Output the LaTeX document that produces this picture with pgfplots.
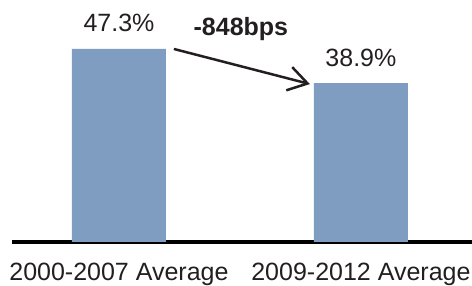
\documentclass[border=0pt]{standalone}
\usepackage{pgfplots}
\pgfplotsset{compat=1.18}
\usepackage{fontspec}
\setmainfont{Liberation Sans}
\usetikzlibrary{arrows.meta}
\definecolor{barblue}{RGB}{127,157,192}
\definecolor{txt}{RGB}{35,31,32}
\begin{document}
\begin{tikzpicture}
\useasboundingbox (0,0) rectangle (472pt,286pt);
\begin{axis}[
  at={(12pt,44pt)}, anchor=south west,
  scale only axis, width=460pt, height=242pt,
  xmin=-0.442, xmax=1.459, ymin=0, ymax=59.3,
  axis x line=bottom, axis y line=none,
  axis line style={line width=4pt, -, black},
  xtick={0,1}, xticklabels={2000-2007 Average, 2009-2012 Average},
  major tick length=0pt,
  xticklabel style={anchor=base, yshift=-39pt, font=\fontsize{25}{29}\selectfont, text=txt},
  ybar, bar width=94pt, bar shift=0pt,
  /pgf/number format/assume math mode=true,
  nodes near coords={\pgfmathprintnumber[fixed,precision=1,fixed zerofill]{\pgfplotspointmeta}\%},
  nodes near coords style={anchor=base, yshift=17pt, font=\fontsize{25}{29}\selectfont, text=txt},
  clip=false,
]
\addplot[fill=barblue, draw=none] coordinates {(0,47.3) (1,38.9)};
\draw[line width=2.5pt, txt, line join=miter, -{Straight Barb[length=19pt,width=24pt]}] (axis cs:0.227,47.3) -- (axis cs:0.789,38.7);
\node[anchor=base, font=\bfseries\fontsize{25}{29}\selectfont, text=txt] at (axis cs:0.504,50.7) {-848bps};
\end{axis}
\end{tikzpicture}
\end{document}
